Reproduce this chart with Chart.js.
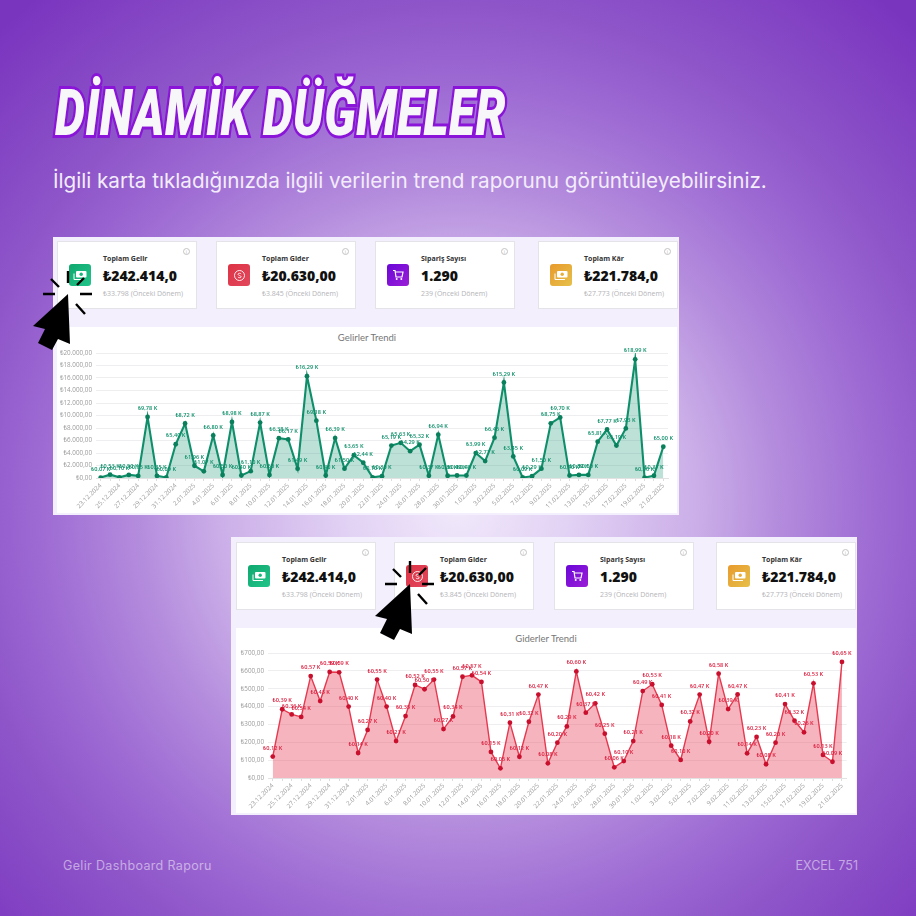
<!DOCTYPE html>
<html lang="tr"><head><meta charset="utf-8">
<script src="https://cdn.jsdelivr.net/npm/chart.js@4"></script>
<style>
html,body{margin:0;padding:0;width:916px;height:916px;overflow:hidden}
body{position:relative;background:radial-gradient(circle 680px at 458px 505px,#f1e9fb 0,#e2d2f4 110px,#cbaee8 240px,#b48cdd 320px,#9d6ad3 420px,#8e55c9 500px,#7a35bf 660px);font-family:"Noto Sans",sans-serif}
.abs{position:absolute}
#title{left:55px;top:76px;font:italic 900 64px "Roboto",sans-serif;color:#f7f6f8;-webkit-text-stroke:6px #8a14d8;paint-order:stroke fill;white-space:nowrap;transform-origin:0 0;transform:scaleX(.745);letter-spacing:.6px}
#sub{left:53px;top:168px;font:400 20.65px "Inter","Lato",sans-serif;color:#f3ecfb;white-space:nowrap}
.foot{top:858px;font:400 12.5px "Inter",sans-serif;color:rgba(255,255,255,.5);white-space:nowrap}
.panel{background:#f3effc;filter:blur(.35px)}
.card{position:absolute;background:#fff;border:1px solid #e4e4e8;box-sizing:border-box;width:140px;height:68px}
.ic{position:absolute;left:11px;top:22px;width:22px;height:22px;border-radius:3px;display:flex;align-items:center;justify-content:center}
.t{position:absolute;left:45px;top:12px;font:700 7px "Open Sans","Noto Sans",sans-serif;color:#333;white-space:nowrap}
.v{position:absolute;left:45px;top:24px;font:900 14px/20px "Noto Sans",sans-serif;color:#111;white-space:nowrap}
.s{position:absolute;left:45px;top:47px;font:400 7px "Open Sans","Noto Sans",sans-serif;color:#b4b4b8;white-space:nowrap}
.i{position:absolute;right:6px;top:6px;width:7px;height:7px;border:.5px solid #c4c4c4;border-radius:50%;box-sizing:border-box;font:400 5px/6px "Noto Sans",sans-serif;color:#bbb;text-align:center}
.cc{position:absolute;background:#fff}
.ct{position:absolute;top:4.5px;left:0;width:100%;text-align:center;font:400 9.5px "Lato","Open Sans",sans-serif;color:#777}
canvas{position:absolute;left:0;top:0}
</style></head><body>
<div id="title" class="abs">DİNAMİK DÜĞMELER</div>
<div id="sub" class="abs">İlgili karta tıkladığınızda ilgili verilerin trend raporunu görüntüleyebilirsiniz.</div>
<div class="abs foot" style="left:63px;letter-spacing:.35px">Gelir Dashboard Raporu</div>
<div class="abs foot" style="right:58px">EXCEL 751</div>

<div id="p1" class="abs panel" style="left:53px;top:237px;width:626px;height:278px"></div>
<div id="p2" class="abs panel" style="left:231px;top:537px;width:626px;height:278px"></div>

<svg class="abs" style="left:0;top:0;pointer-events:none;z-index:5" width="916" height="916">
  <defs><g id="cur">
    <path d="M0 0 L-35 32 L-23 35 L-30 49 L-16 56 L-10 45 L2 50 Z" fill="#000"/>
    <g stroke="#000" stroke-width="2.4" fill="none">
      <path d="M0 -23V-11M-17 -15L-9 -7M9 -9L16 -16M12 0H24M-25 0H-13M8 10L17 20"/>
    </g>
  </g></defs>
  <use href="#cur" x="68" y="294"/>
  <use href="#cur" x="410" y="584"/>
</svg>

<script>
const dates = ["23.12.2024","24.12.2024","25.12.2024","26.12.2024","27.12.2024","28.12.2024","29.12.2024","30.12.2024","31.12.2024","1.01.2025","2.01.2025","3.01.2025","4.01.2025","5.01.2025","6.01.2025","7.01.2025","8.01.2025","9.01.2025","10.01.2025","11.01.2025","12.01.2025","13.01.2025","14.01.2025","15.01.2025","16.01.2025","17.01.2025","18.01.2025","19.01.2025","20.01.2025","21.01.2025","22.01.2025","23.01.2025","24.01.2025","25.01.2025","26.01.2025","27.01.2025","28.01.2025","29.01.2025","30.01.2025","31.01.2025","1.02.2025","2.02.2025","3.02.2025","4.02.2025","5.02.2025","6.02.2025","7.02.2025","8.02.2025","9.02.2025","10.02.2025","11.02.2025","12.02.2025","13.02.2025","14.02.2025","15.02.2025","16.02.2025","17.02.2025","18.02.2025","19.02.2025","20.02.2025","21.02.2025"];
const incomeValues = [70,530,100,500,350,9780,350,90,5400,8720,1960,1070,6800,500,8980,400,1100,8870,500,6380,6170,1490,16290,9180,400,6390,1500,3650,2440,100,300,5190,5630,4290,5320,370,6940,360,400,400,3990,2710,6450,15290,3450,90,290,1500,8750,9700,400,500,500,5810,7770,5190,7930,18990,60,370,5000];
const expenseValues = [120,385,356,342,571,431,594,592,400,140,269,551,400,207,347,521,497,551,274,345,567,575,538,146,54,310,119,315,467,82,198,289,597,366,418,248,60,95,207,487,525,409,181,101,317,467,203,584,386,468,138,230,77,198,414,321,256,530,129,91,650];
const incomeTicks = [0,2000,4000,6000,8000,10000,12000,14000,16000,18000,20000];
const expenseTicks = [0,100,200,300,400,500,600,700];
const cardTitles = ["Toplam Gelir","Toplam Gider","Sipariş Sayısı","Toplam Kâr"];
const cardValues = ["₺242.414,0","₺20.630,00","1.290","₺221.784,0"];
const cardPrev = ["₺33.798 (Önceki Dönem)","₺3.845 (Önceki Dönem)","239 (Önceki Dönem)","₺27.773 (Önceki Dönem)"];

const iconBg = ["linear-gradient(135deg,#0fa86f,#22c48a)","linear-gradient(135deg,#dd3345,#e2475c)","linear-gradient(135deg,#6a06d8,#9b1fd6)","linear-gradient(135deg,#e89a2c,#e6c04a)"];
const money = '<svg width="14" height="11" viewBox="0 0 14 11"><rect x="3" y="1" width="10.5" height="6.5" rx="1" fill="#fff"/><circle cx="8.2" cy="4.2" r="1.7" fill="#19b57f"/><path d="M1 3.5V9.5H11" stroke="#fff" fill="none" stroke-width="1"/></svg>';
const iconSvg = [money,
 '<svg width="13" height="13" viewBox="0 0 13 13"><circle cx="6.5" cy="6.5" r="5" fill="none" stroke="#fff" stroke-width=".9"/><path d="M8.2 5C7.6 4 5 4 5 5.3S8.2 6.6 8.2 7.8 5.6 9 4.9 8" stroke="#fff" fill="none" stroke-width=".8"/></svg>',
 '<svg width="12" height="12" viewBox="0 0 12 12"><path d="M1 1.5H3L4 8H10L11 3H3.4" stroke="#fff" fill="none" stroke-width="1.2"/><circle cx="4.7" cy="10" r="1" fill="#fff"/><circle cx="9.3" cy="10" r="1" fill="#fff"/></svg>',
 money.replace('#19b57f','#e7ae3a')];

function addCards(panel, xs, top){
  xs.forEach((x,i)=>{
    const c=document.createElement('div');c.className='card';c.style.left=x+'px';c.style.top=top+'px';
    const ic=`<div class="ic" style="background:${iconBg[i]}">${iconSvg[i]}</div>`;
    c.innerHTML=ic+`<div class="t">${cardTitles[i]}</div><div class="v">${cardValues[i]}</div><div class="s">${cardPrev[i]}</div><div class="i">i</div>`;
    panel.appendChild(c);
  });
}
const p1=document.getElementById('p1'),p2=document.getElementById('p2');
addCards(p1,[4,163,322,485],4);
addCards(p2,[5,163,323,485],5);

const pointLabels={id:'pointLabels',afterDatasetsDraw(chart,args,o){
  const ctx=chart.ctx,ds=chart.data.datasets[0],meta=chart.getDatasetMeta(0);
  ctx.save();ctx.font='600 5.6px "Open Sans","Noto Sans",sans-serif';ctx.fillStyle=o.color;ctx.textAlign='center';ctx.textBaseline='middle';
  meta.data.forEach((pt,i)=>{
    const k=(ds.data[i]/1000).toFixed(2).replace('.',',');
    ctx.fillText('₺'+k+' K',pt.x,pt.y-8.5);
  });
  ctx.restore();
}};

function addChart(panel,box,title,values,ticks,max,step,colors,plot){
  const cc=document.createElement('div');cc.className='cc';
  Object.assign(cc.style,{left:box.l+'px',top:box.t+'px',width:box.w+'px',height:box.h+'px'});
  cc.innerHTML=`<div class="ct">${title}</div>`;
  const cv=document.createElement('canvas');cv.width=box.w;cv.height=box.h;cv.style.width=box.w+'px';cv.style.height=box.h+'px';
  cc.appendChild(cv);panel.appendChild(cc);
  new Chart(cv,{type:'line',plugins:[pointLabels],data:{labels:dates,datasets:[{data:values,borderColor:colors.line,borderWidth:colors.bw,backgroundColor:colors.fill,fill:'origin',tension:0,pointRadius:colors.r,pointHoverRadius:colors.r,pointBackgroundColor:colors.pt,pointBorderColor:colors.pt,pointBorderWidth:0}]},
  options:{responsive:false,animation:false,events:[],layout:{padding:{top:plot.top,right:plot.right,bottom:0,left:0}},
    plugins:{legend:{display:false},title:{display:false},tooltip:{enabled:false},pointLabels:{color:colors.label}},
    scales:{
      x:{offset:true,afterFit:s=>{s.height=box.h-plot.bottom},border:{color:'#e2e2e2'},grid:{drawOnChartArea:false,drawTicks:true,tickLength:3,color:'#dcdcdc'},
        ticks:{autoSkip:false,maxRotation:45,minRotation:45,padding:1,color:'#9a9a9a',font:{size:6.3,family:'"Open Sans","Noto Sans",sans-serif'},callback(v,i){return i%2?'':dates[i]}}},
      y:{min:0,max:max,afterFit:s=>{s.width=plot.left},afterBuildTicks:s=>{s.ticks=ticks.map(v=>({value:v}))},border:{display:false},grid:{color:'#eeeef0',drawTicks:false},
        ticks:{padding:4,color:'#9a9a9a',font:{size:6.3,family:'"Open Sans","Noto Sans",sans-serif'},callback:v=>'₺'+v.toLocaleString('tr-TR',{minimumFractionDigits:2,maximumFractionDigits:2})}}
    }}});
}
addChart(p1,{l:4,t:90,w:620,h:186},'Gelirler Trendi',incomeValues,incomeTicks,20000,2000,
 {line:'#0e8f6a',bw:2.1,fill:'rgba(14,143,106,.27)',pt:'#0a7f5c',label:'#0e8f6a',r:2.4},{top:26,right:9,left:39,bottom:151});
addChart(p2,{l:5,t:91,w:620,h:185},'Giderler Trendi',expenseValues,expenseTicks,700,100,
 {line:'#e63950',bw:1.4,fill:'rgba(230,50,75,.36)',pt:'#c8102e',label:'#dc2040',r:2.4},{top:25,right:9.3,left:32,bottom:150});
</script>
</body></html>
